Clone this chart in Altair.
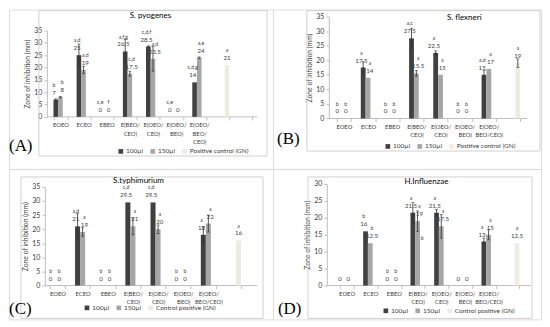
import altair as alt
import pandas as pd

# ---------------- data ----------------
CATS_A = ["EOEO", "ECEO", "EBEO", "E(BEO/|CEO)", "E(OEO/|CEO)", "E(OEO/|BEO)", "E(OEO/|BEO/|CEO)", "PC", "blank"]
CATS_BCD = ["EOEO", "ECEO", "EBEO", "E(BEO/|CEO)", "E(OEO/|CEO)", "E(OEO/|BEO)", "E(OEO/|BEO/CEO)", "PC"]
SER_AB = ["100µl", "150µl", "Positive control (GN)"]
SER_CD = ["100µl", "150µl", "Control positive (GN)"]

A_100 = [7, 25, 0, 26.5, 28.5, 0, 14]
A_150 = [8, 19, 0, 17.5, 23.5, 0, 24]
A_PC = 21
A_100_ERR = [0.3, 4.5, 0, 5, 0.3, 0, 0]
A_150_ERR = [0.3, 1.5, 0, 1, 5, 0, 0.3]
A_PC_ERR = 0
A_100_LET = ["b", "a,d", "c,e", "a,f,g", "c,d,f", "c,e", "c,d,g"]
A_150_LET = ["b", "a,d", "f", "c,d", "a,d", "", "a,e"]
A_PC_LET = "a"

B_100 = [0, 17.5, 0, 27.5, 22.5, 0, 15]
B_150 = [0, 14, 0, 15.5, 15, 0, 17]
B_PC = 19
B_100_ERR = [0, 2, 0, 3.5, 0.7, 0, 1.5]
B_150_ERR = [0, 0, 0, 1, 0, 0, 0]
B_PC_ERR = 1.5
B_100_LET = ["b", "a", "b", "a,c", "a", "b", "a,d"]
B_150_LET = ["b", "a", "b", "a", "a", "b", "a"]
B_PC_LET = "a"

C_100 = [0, 21, 0, 29.5, 29.5, 0, 18]
C_150 = [0, 19, 0, 21, 20, 0, 22]
C_PC = 16
C_100_ERR = [0, 4.5, 0, 0, 0, 0, 3]
C_150_ERR = [0, 1.5, 0, 3, 1.5, 0, 3]
C_PC_ERR = 0
C_100_LET = ["b", "a,d", "b", "c,d", "c,d", "b", "a"]
C_150_LET = ["b", "a", "b", "a", "a", "b", "a"]
C_PC_LET = "a"

D_100 = [0, 16, 0, 21.5, 21.5, 0, 13]
D_150 = [0, 12.5, 0, 19, 17.5, 0, 15]
D_PC = 12.5
D_100_ERR = [0, 0, 0, 3, 1, 0, 1]
D_150_ERR = [0, 0, 0, 3, 3.5, 0, 1.5]
D_PC_ERR = 0
D_100_LET = ["", "b", "b", "a", "a", "", "a"]
D_150_LET = ["", "b", "b", "a", "a", "", "a"]
D_PC_LET = "a"
D_EXTRA = [("E(BEO/|CEO)", 2, 9.5, "b")]

COLORS = ["#404040", "#a6a6a6", "#eeece1"]
TXT = "#404040"
LINE = "#bfbfbf"


def build(cats, series, v100, v150, vpc, e100, e150, epc, t100, t150, tpc, extra,
          ymax, g, title, tag):
    rows = []
    for c, a, b, ea, eb, la, lb in zip(cats[:7], v100, v150, e100, e150, t100, t150):
        rows.append(dict(cat=c, ser=series[0], v=a, e=ea, let=la))
        rows.append(dict(cat=c, ser=series[1], v=b, e=eb, let=lb))
    rows.append(dict(cat="PC", ser=series[2], v=vpc, e=epc, let=tpc))
    df = pd.DataFrame(rows)
    df["lo"] = df["v"] - df["e"]
    df["hi"] = df["v"] + df["e"]
    df["lab"] = df["v"].map(lambda x: f"{x:g}")
    lets = df[df["let"] != ""][["cat", "ser", "v", "let"]].copy()
    for c, si, anchor, t in extra:
        lets = pd.concat([lets, pd.DataFrame([dict(cat=c, ser=series[si], v=anchor, let=t)])])
    dfe = df[df["e"] > 0]

    xs = alt.Scale(domain=cats, range=g["xr"], paddingInner=0.4, paddingOuter=0.2)
    ys = alt.Scale(domain=[0, ymax], range=g["yr"], nice=False)
    offs = alt.Scale(domain=series, paddingInner=0, paddingOuter=0)

    xaxis = alt.Axis(
        title=None, offset=-(g["H"] - g["yr"][0]), domain=False, ticks=True,
        tickBand="extent", tickSize=3, tickColor=LINE, labelAngle=0,
        labelExpr="datum.label == 'PC' || datum.label == 'blank' ? '' : split(datum.label, '|')",
        labelFontSize=5.9, labelColor=TXT, labelPadding=2, labelLineHeight=8.5,
    )
    yaxis = alt.Axis(
        title="Zone of inhibition (mm)", values=list(range(0, ymax + 1, 5)),
        offset=-g["yax"], domain=True, domainColor=LINE, ticks=True, tickSize=3,
        tickColor=LINE, grid=False, labelFontSize=7, labelColor=TXT, labelPadding=2,
        titleFontSize=6.8, titleFontWeight="normal", titleColor=TXT, titlePadding=3,
    )

    def ex():
        return alt.X("cat:N", scale=xs, axis=xaxis)

    def eo():
        return alt.XOffset("ser:N", scale=offs)

    def ey(f):
        return alt.Y(f + ":Q", scale=ys, axis=yaxis)

    legend = alt.Legend(
        orient="none", legendX=g["leg"][0], legendY=g["leg"][1], direction="horizontal",
        title=None, symbolType="square", symbolSize=22, symbolStrokeWidth=0,
        labelFontSize=6.5, labelColor=TXT, columnPadding=6, labelOffset=2,
    )

    one = pd.DataFrame({"k": [0]})
    fx0, fx1, fy0, fy1 = g["frame"]
    frame = alt.Chart(one).mark_rect(fillOpacity=0, stroke="#d0d0d0", strokeWidth=1).encode(
        x=alt.value(fx0), x2=alt.value(fx1), y=alt.value(fy0), y2=alt.value(fy1))
    base_rule = alt.Chart(one).mark_rule(color=LINE, strokeWidth=1).encode(
        x=alt.value(g["yax"]), x2=alt.value(g["bx1"]), y=alt.value(g["yr"][0]))
    bars = alt.Chart(df).mark_bar().encode(
        x=ex(), xOffset=eo(), y=ey("v"),
        color=alt.Color("ser:N", scale=alt.Scale(domain=series, range=COLORS), legend=legend))
    err = alt.Chart(dfe).mark_rule(color="#303030", strokeWidth=0.8).encode(
        x=ex(), xOffset=eo(), y=ey("lo"), y2="hi:Q")
    cap_hi = alt.Chart(dfe).mark_tick(color="#303030", size=3, thickness=0.8).encode(
        x=ex(), xOffset=eo(), y=ey("hi"))
    cap_lo = alt.Chart(dfe).mark_tick(color="#303030", size=3, thickness=0.8).encode(
        x=ex(), xOffset=eo(), y=ey("lo"))

    layers = [frame, base_rule, bars, err, cap_hi, cap_lo]
    shifts = {series[0]: -1.8, series[1]: 1.8, series[2]: 0}
    for s in series:
        dv = df[df["ser"] == s]
        dl = lets[lets["ser"] == s]
        layers.append(alt.Chart(dv).mark_text(fontSize=6.2, color=TXT, dy=-5, dx=shifts[s],
                                              baseline="alphabetic").encode(
            x=ex(), xOffset=eo(), y=ey("v"), text="lab:N"))
        if len(dl):
            layers.append(alt.Chart(dl).mark_text(fontSize=5.2, color=TXT, dy=-13, dx=shifts[s],
                                                  baseline="alphabetic").encode(
                x=ex(), xOffset=eo(), y=ey("v"), text="let:N"))
    ttl = alt.Chart(one).mark_text(fontSize=8, color="#000000", baseline="middle").encode(
        x=alt.value(g["title"][0]), y=alt.value(g["title"][1]), text=alt.value(title))
    tagt = alt.Chart(one).mark_text(font="Liberation Serif", fontSize=17, color="#000000",
                                    align="left", baseline="alphabetic").encode(
        x=alt.value(g["tag"][0]), y=alt.value(g["tag"][1]), text=alt.value(tag))
    layers += [ttl, tagt]
    return alt.layer(*layers).properties(width=g["W"], height=g["H"])


GA = dict(W=265, H=160, frame=(30, 259, 1, 147), yax=38, xr=[40, 249], yr=[107.7, 21], bx1=249,
          title=(142, 6), leg=(109, 139), tag=(0, 142))
GB = dict(W=269, H=160, frame=(34, 268, 1, 142), yax=56, xr=[59, 253], yr=[109.3, 7], bx1=255,
          title=(192, 8), leg=(112, 134), tag=(4, 135))
GC = dict(W=265, H=151, frame=(12, 255, 8, 150), yax=36, xr=[36, 238], yr=[117, 18], bx1=249,
          title=(130, 12), leg=(75, 136), tag=(0, 146))
GD = dict(W=269, H=151, frame=(35, 260, 8, 150), yax=54, xr=[62, 252], yr=[117, 15], bx1=259,
          title=(154, 13), leg=(110, 139), tag=(5, 146))

pA = build(CATS_A, SER_AB, A_100, A_150, A_PC, A_100_ERR, A_150_ERR, A_PC_ERR,
           A_100_LET, A_150_LET, A_PC_LET, [], 35, GA, "S. pyogenes", "(A)")
pB = build(CATS_BCD, SER_AB, B_100, B_150, B_PC, B_100_ERR, B_150_ERR, B_PC_ERR,
           B_100_LET, B_150_LET, B_PC_LET, [], 35, GB, "S. flexneri", "(B)")
pC = build(CATS_BCD, SER_CD, C_100, C_150, C_PC, C_100_ERR, C_150_ERR, C_PC_ERR,
           C_100_LET, C_150_LET, C_PC_LET, [], 35, GC, "S.typhimurium", "(C)")
pD = build(CATS_BCD, SER_CD, D_100, D_150, D_PC, D_100_ERR, D_150_ERR, D_PC_ERR,
           D_100_LET, D_150_LET, D_PC_LET, D_EXTRA, 30, GD, "H.Influenzae", "(D)")

RES = dict(x="independent", y="independent", color="independent", xOffset="independent")
chart = alt.concat(pA, pB, pC, pD, columns=2, spacing=0, bounds="flush").resolve_scale(**RES).properties(
    padding=0
).configure_view(stroke=None).configure(font="Lato")

chart.save("out.html", embed_options={"renderer": "svg", "actions": False})
